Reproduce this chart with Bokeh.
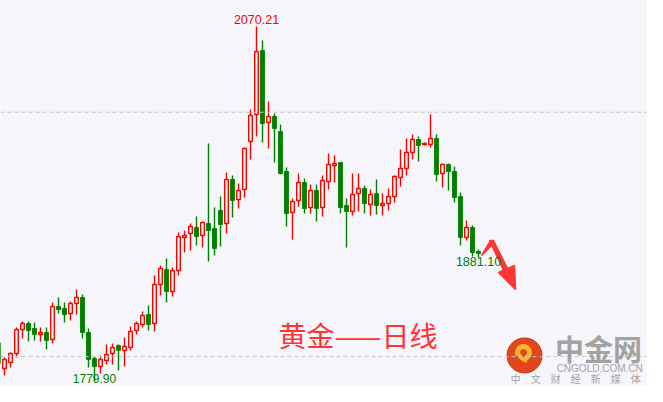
from bokeh.plotting import figure
from bokeh.models import ColumnDataSource, Range1d, Span, Label
from bokeh.embed import file_html
from bokeh.resources import INLINE

# ---------------- data (daily gold candles) ----------------
day = list(range(81))
open_ = [1811.5, 1790.2, 1795.1, 1802.5, 1822.2, 1827.1, 1823.0, 1818.1, 1819.7, 1814.0,
         1841.0, 1839.4, 1835.3, 1843.4, 1848.4, 1819.7, 1798.4, 1791.9, 1796.8, 1802.5,
         1809.1, 1805.0, 1807.4, 1821.3, 1826.3, 1834.4, 1827.1, 1859.0, 1871.3, 1853.3,
         1870.5, 1897.5, 1900.8, 1905.7, 1899.1, 1908.9, 1904.9, 1919.6, 1908.9, 1945.0,
         1928.6, 1936.8, 1976.1, 1998.2, 2050.6, 1991.6, 1996.5, 1984.3, 1951.5, 1917.9,
         1927.8, 1942.5, 1922.0, 1936.0, 1922.0, 1943.3, 1956.4, 1958.9, 1923.7, 1918.8,
         1933.5, 1937.6, 1924.5, 1933.5, 1923.7, 1925.3, 1931.0, 1946.6, 1954.0, 1967.1,
         1977.7, 1973.6, 1973.6, 1978.5, 1949.9, 1957.2, 1951.5, 1931.0, 1897.5, 1905.7,
         1886.0]
high = [1814.8, 1799.2, 1803.3, 1823.8, 1828.7, 1828.7, 1827.9, 1823.8, 1823.8, 1844.3,
        1848.4, 1844.3, 1845.1, 1854.9, 1850.8, 1823.0, 1800.0, 1800.9, 1809.9, 1810.7,
        1809.9, 1815.6, 1824.6, 1828.7, 1836.9, 1841.8, 1866.4, 1874.5, 1880.3, 1872.9,
        1901.6, 1903.2, 1908.9, 1914.7, 1910.6, 1974.4, 1922.0, 1931.0, 1950.7, 1948.2,
        1941.7, 1971.2, 2002.3, 2070.21, 2058.8, 2008.8, 1999.0, 1990.0, 1954.8, 1929.4,
        1949.9, 1945.8, 1940.9, 1940.9, 1948.2, 1966.2, 1964.6, 1958.9, 1929.4, 1949.9,
        1949.9, 1940.0, 1936.8, 1945.0, 1933.5, 1937.6, 1948.2, 1969.5, 1978.5, 1981.8,
        1980.2, 1975.3, 1998.2, 1981.8, 1958.0, 1958.0, 1955.6, 1934.3, 1911.4, 1907.3,
        1887.7]
low = [1790.2, 1784.5, 1791.1, 1799.2, 1814.8, 1812.3, 1813.2, 1812.3, 1805.8, 1810.7,
       1835.3, 1827.9, 1829.5, 1834.4, 1814.8, 1791.1, 1779.90, 1786.1, 1793.5, 1793.5,
       1788.6, 1791.9, 1805.0, 1818.1, 1823.8, 1821.3, 1820.5, 1850.0, 1844.3, 1849.2,
       1866.4, 1885.2, 1886.8, 1890.9, 1889.3, 1877.8, 1882.7, 1890.1, 1900.8, 1913.9,
       1921.2, 1930.2, 1961.3, 1980.2, 1975.3, 1970.3, 1958.9, 1949.0, 1906.5, 1895.8,
       1922.9, 1917.1, 1917.1, 1910.6, 1914.7, 1936.8, 1942.5, 1917.1, 1889.3, 1915.5,
       1918.8, 1917.1, 1915.5, 1916.3, 1915.5, 1919.6, 1926.1, 1939.2, 1948.2, 1961.3,
       1959.7, 1972.8, 1971.2, 1943.3, 1938.4, 1936.0, 1926.1, 1890.9, 1895.0, 1881.9,
       1881.10]
close = [1794.3, 1797.6, 1802.5, 1822.2, 1827.1, 1821.3, 1818.1, 1819.7, 1813.2, 1841.0,
         1838.5, 1834.4, 1843.4, 1848.4, 1819.7, 1797.6, 1791.9, 1797.6, 1801.7, 1807.4,
         1805.0, 1808.2, 1820.5, 1827.1, 1833.6, 1826.3, 1859.0, 1872.1, 1853.3, 1870.5,
         1898.3, 1899.1, 1906.5, 1898.3, 1909.8, 1903.2, 1888.5, 1908.1, 1945.0, 1927.8,
         1936.0, 1970.3, 1997.4, 2049.7, 1990.8, 1996.5, 1986.7, 1949.9, 1917.1, 1927.0,
         1942.5, 1921.2, 1936.0, 1921.2, 1944.1, 1957.2, 1958.0, 1922.0, 1918.8, 1932.7,
         1937.6, 1925.3, 1932.7, 1923.7, 1925.3, 1931.0, 1947.4, 1954.0, 1967.1, 1977.7,
         1972.8, 1974.4, 1978.5, 1949.0, 1957.2, 1951.5, 1930.2, 1897.5, 1905.7, 1885.2,
         1884.4]

grid_levels = [1800, 2000]
title_text = "黄金——日线"
brand_name = "中金网"
brand_site = "CNGOLD.COM.CN"
brand_slogan = "中　文　财　经　新　媒　体"

RED = "#ff0000"
GREEN = "#008000"
BG = "#f5f5fa"
GRID = "#c6c6c6"
ARROW = "#ff3636"
GRAY = "#a2a2a2"

# ---------------- sources ----------------
def subset(cond):
    idx = [i for i in day if cond(i)]
    return ColumnDataSource(dict(
        x=[day[i] for i in idx],
        high=[high[i] for i in idx],
        low=[low[i] for i in idx],
        top=[max(open_[i], close[i]) for i in idx],
        bottom=[min(open_[i], close[i]) for i in idx],
    ))

up_src = subset(lambda i: close[i] >= open_[i])
dn_src = subset(lambda i: close[i] < open_[i])

# ---------------- figure ----------------
p = figure(width=647, height=386,
           x_range=Range1d(2 / 6, 649 / 6), y_range=Range1d(1775.49, 2091.50),
           output_backend="svg", toolbar_location=None,
           x_axis_location=None, y_axis_location=None, min_border=0,
           background_fill_color=BG, border_fill_color=BG, outline_line_color=None)
p.grid.visible = False

for lv in grid_levels:
    p.add_layout(Span(location=lv, dimension="width", line_color=GRID,
                      line_dash="4 3", line_width=1))

# wicks
p.segment(x0="x", y0="high", x1="x", y1="low", source=up_src, line_color=RED, line_width=1.4)
p.segment(x0="x", y0="high", x1="x", y1="low", source=dn_src, line_color=GREEN, line_width=1.4)
# bodies
p.vbar(x="x", top="top", bottom="bottom", width=0.6, source=up_src,
       fill_color=BG, line_color=RED, line_width=1.4)
p.vbar(x="x", top="top", bottom="bottom", width=0.68, source=dn_src,
       fill_color=GREEN, line_color=GREEN, line_width=0.9)

# extreme labels
i_max = max(day, key=lambda i: high[i])
i_min = min(day, key=lambda i: low[i])
i_last = day[-1]
p.add_layout(Label(x=day[i_max], y=high[i_max], text=f"{high[i_max]:.2f}",
                   text_color=RED, text_font="Liberation Sans", text_font_size="12.5px",
                   text_align="center", text_baseline="bottom", y_offset=3))
p.add_layout(Label(x=day[i_last], y=low[i_last], text=f"{low[i_last]:.2f}",
                   text_color=GREEN, text_font="Liberation Sans", text_font_size="12.5px",
                   text_align="center", text_baseline="top", y_offset=0))
p.add_layout(Label(x=day[i_min], y=low[i_min], text=f"{low[i_min]:.2f}",
                   text_color=GREEN, text_font="Liberation Sans", text_font_size="12px",
                   text_align="center", text_baseline="middle", y_offset=2.5))

# hand-drawn red arrow (annotation)
arrow_xs = [[80.5, 82.0, 82.5],
            [81.83, 82.5, 85.17, 84.5],
            [83.33, 86.0, 86.17]]
arrow_ys = [[1882.7, 1895.0, 1892.6],
            [1895.0, 1895.0, 1868.8, 1867.2],
            [1868.8, 1874.5, 1854.9]]
p.patches(xs=arrow_xs, ys=arrow_ys, fill_color=ARROW, line_color=ARROW, line_width=1.5)

# title
p.add_layout(Label(x=59.92, y=1817.7, text=title_text, text_color="#ff3333",
                   text_font="Noto Sans CJK SC", text_font_size="28px",
                   text_align="center", text_baseline="middle"))

# logo
p.scatter(x=[87.67], y=[1800.9], size=35, marker="circle",
          fill_color="#e2461d", line_color="#c9321a", line_width=1)
p.annular_wedge(x=[87.5], y=[1803.3], inner_radius=3.5, outer_radius=8.5,
                inner_radius_units="screen", outer_radius_units="screen",
                start_angle=-1.4, end_angle=3.6, fill_color="#fbb52b", line_color=None)
p.annular_wedge(x=[88.5], y=[1806.0], inner_radius=10, outer_radius=14,
                inner_radius_units="screen", outer_radius_units="screen",
                start_angle=3.3, end_angle=4.5, fill_color="#fbb52b", line_color=None)
p.add_layout(Label(x=100.0, y=1807.4, text=brand_name, text_color=GRAY,
                   text_font="Noto Sans CJK SC", text_font_size="29px", text_font_style="bold",
                   text_align="center", text_baseline="middle"))
p.add_layout(Label(x=100.2, y=1790.6, text=brand_site, text_color=GRAY,
                   text_font="Liberation Sans", text_font_size="10px",
                   text_align="center", text_baseline="middle"))
p.add_layout(Label(x=96.2, y=1782.3, text=brand_slogan, text_color=GRAY,
                   text_font="Noto Sans CJK SC", text_font_size="10px",
                   text_align="center", text_baseline="middle"))

open("out.html", "w").write(file_html(p, INLINE))
